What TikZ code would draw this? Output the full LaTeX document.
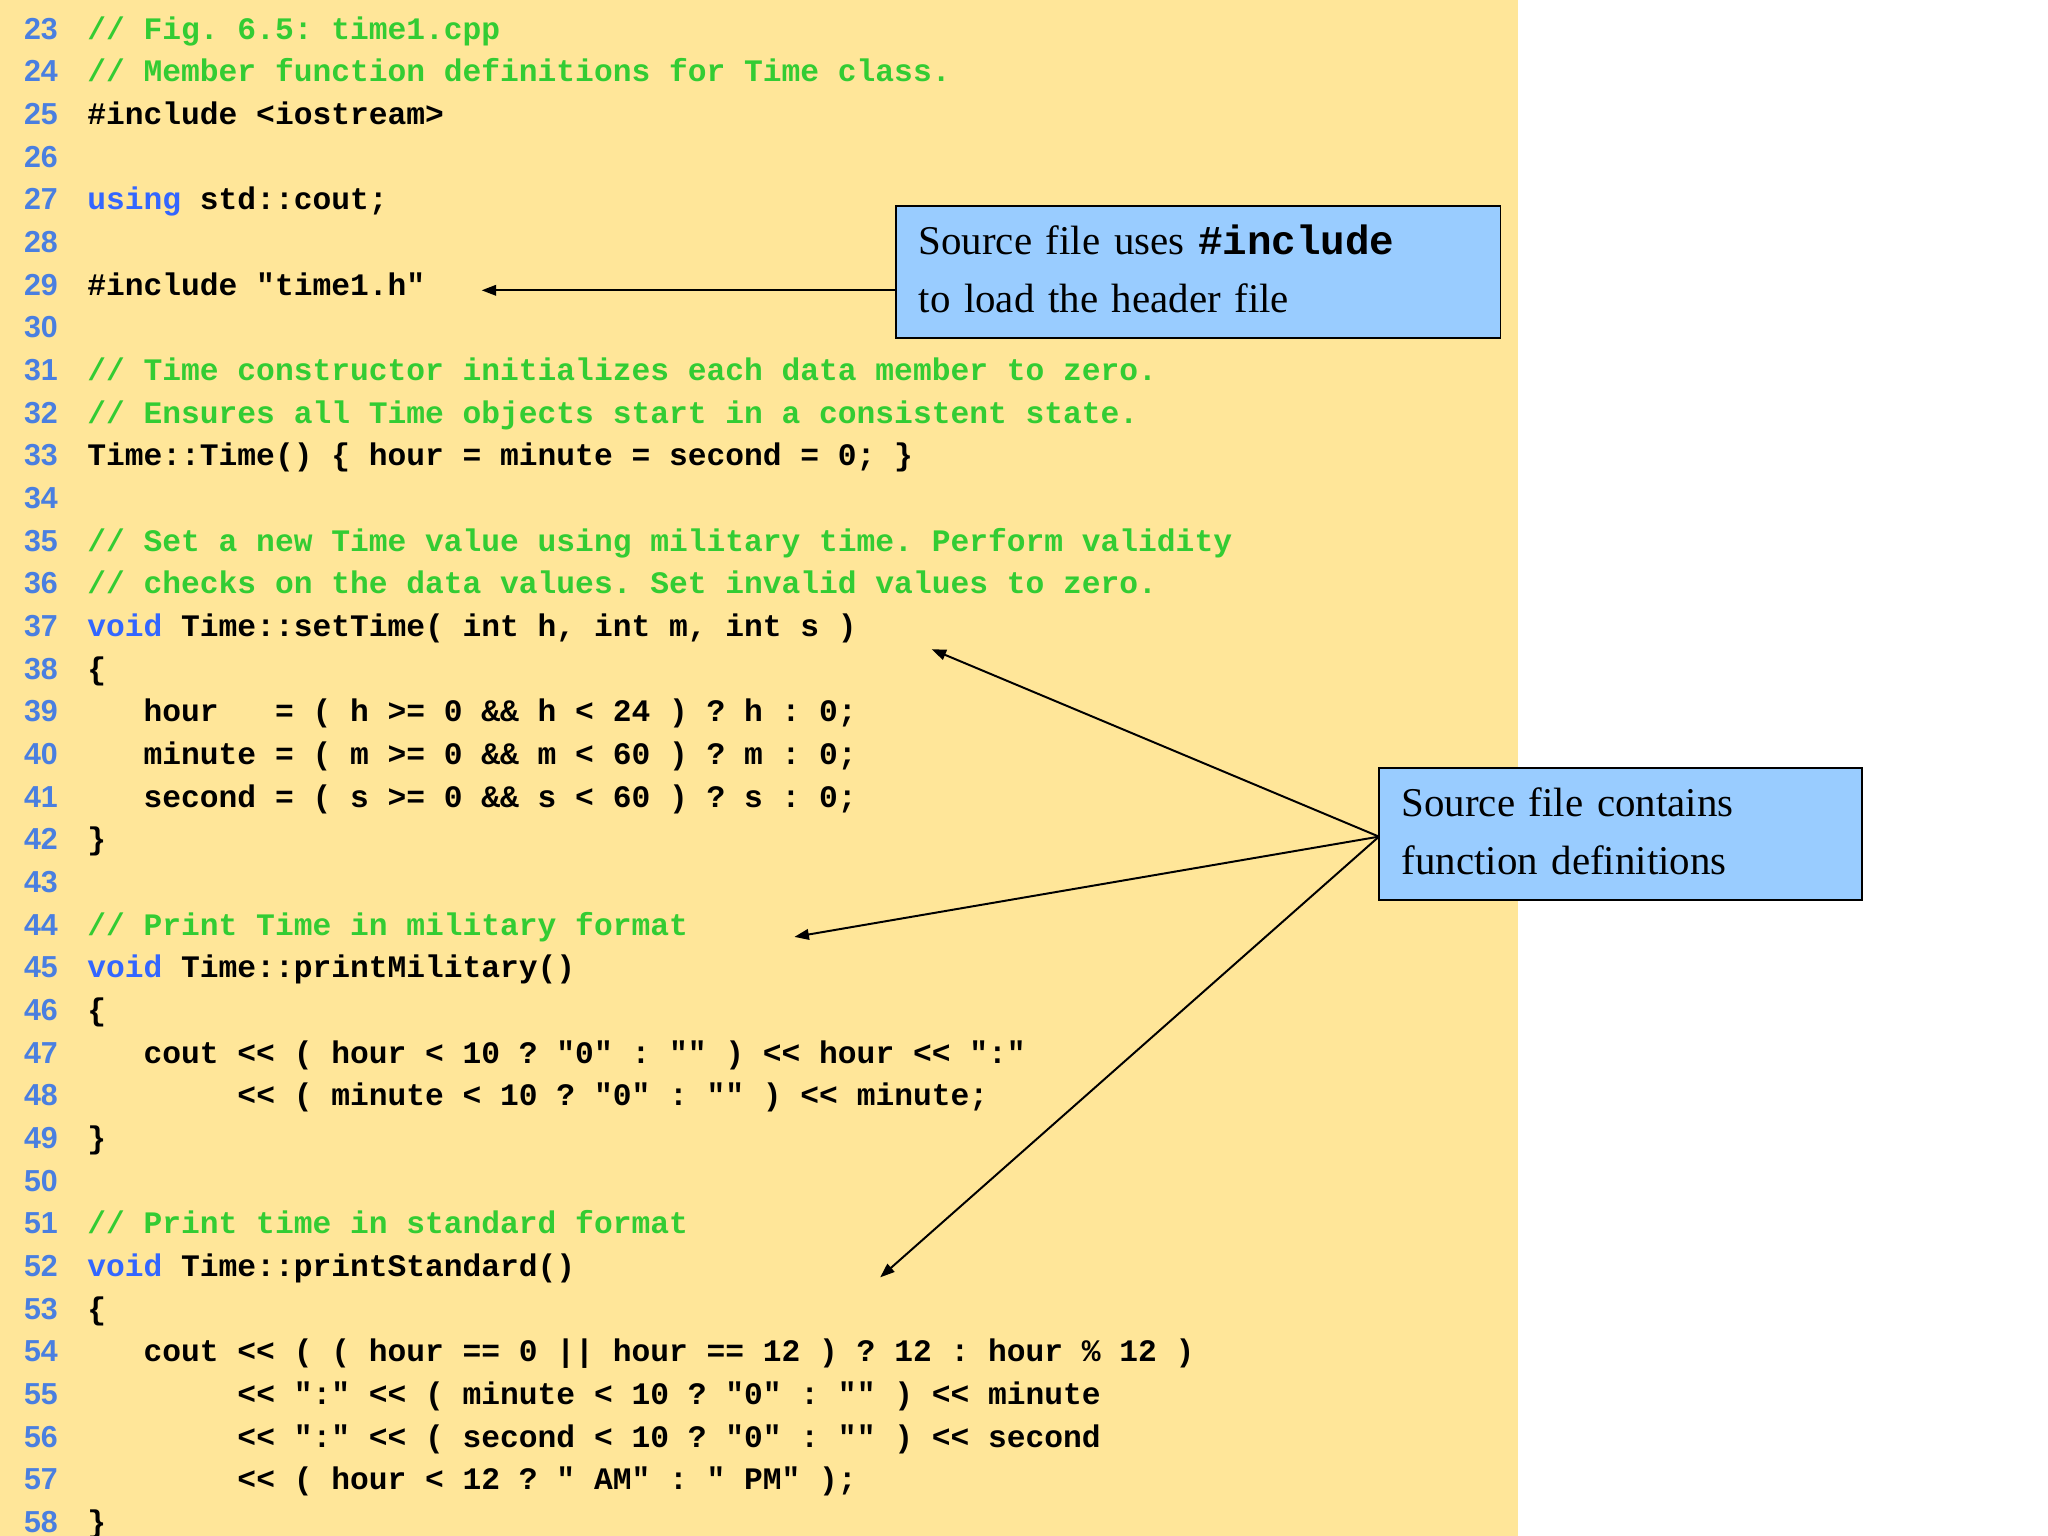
\documentclass[tikz,border=0pt]{standalone}
\usepackage{fontspec}
\setmainfont{Liberation Serif}
\setsansfont{Liberation Sans}
\setmonofont{Liberation Mono}
\usetikzlibrary{arrows.meta}
\definecolor{bg}{HTML}{FFE699}
\definecolor{cgreen}{HTML}{33CC33}
\definecolor{kblue}{HTML}{3366FF}
\definecolor{nblue}{HTML}{4A7FE0}
\definecolor{boxblue}{HTML}{99CCFF}
\newcommand\kw[1]{\textcolor{kblue}{#1}}
\newcommand\cm[1]{\textcolor{cgreen}{#1}}
\newcommand\cl[2]{\node[num,anchor=base east] (n#1) at (44,{29.7+(#1-23)*32.33}) {#1};
  \node[code,anchor=base west] (c#1) at (66,{29.7+(#1-23)*32.33}) {#2};}
\begin{document}
\begin{tikzpicture}[x=1pt,y=-1pt,
  num/.style={inner sep=0,font=\fontsize{23}{23}\sffamily\bfseries,text=nblue},
  code/.style={inner sep=0,font=\fontsize{23.7}{24}\ttfamily\bfseries,text=black},
  callout/.style={anchor=north west,align=left,inner sep=0,font=\fontsize{31}{44}\rmfamily,text width=#1},
  arr/.style={line width=1.5,-{Triangle[length=11,width=8]}}]
\useasboundingbox (0,0) rectangle (1552,1164);
\fill[bg] (0,0) rectangle (1150,1164);
\fill[white] (1150,0) rectangle (1552,1164);
\cl{23}{\cm{// Fig. 6.5: time1.cpp}}
\cl{24}{\cm{// Member function definitions for Time class.}}
\cl{25}{\#include <iostream>}
\cl{26}{}
\cl{27}{\kw{using} std::cout;}
\cl{28}{}
\cl{29}{\#include "time1.h"}
\cl{30}{}
\cl{31}{\cm{// Time constructor initializes each data member to zero.}}
\cl{32}{\cm{// Ensures all Time objects start in a consistent state.}}
\cl{33}{Time::Time() \{ hour = minute = second = 0; \}}
\cl{34}{}
\cl{35}{\cm{// Set a new Time value using military time. Perform validity}}
\cl{36}{\cm{// checks on the data values. Set invalid values to zero.}}
\cl{37}{\kw{void} Time::setTime( int h, int m, int s )}
\cl{38}{\{}
\cl{39}{\ \ \ hour\ \ \ = ( h >= 0 \&\& h < 24 ) ? h : 0;}
\cl{40}{\ \ \ minute = ( m >= 0 \&\& m < 60 ) ? m : 0;}
\cl{41}{\ \ \ second = ( s >= 0 \&\& s < 60 ) ? s : 0;}
\cl{42}{\}}
\cl{43}{}
\cl{44}{\cm{// Print Time in military format}}
\cl{45}{\kw{void} Time::printMilitary()}
\cl{46}{\{}
\cl{47}{\ \ \ cout << ( hour < 10 ? "0" : "" ) << hour << ":"}
\cl{48}{\ \ \ \ \ \ \ \ << ( minute < 10 ? "0" : "" ) << minute;}
\cl{49}{\}}
\cl{50}{}
\cl{51}{\cm{// Print time in standard format}}
\cl{52}{\kw{void} Time::printStandard()}
\cl{53}{\{}
\cl{54}{\ \ \ cout << ( ( hour == 0 || hour == 12 ) ? 12 : hour \% 12 )}
\cl{55}{\ \ \ \ \ \ \ \ << ":" << ( minute < 10 ? "0" : "" ) << minute}
\cl{56}{\ \ \ \ \ \ \ \ << ":" << ( second < 10 ? "0" : "" ) << second}
\cl{57}{\ \ \ \ \ \ \ \ << ( hour < 12 ? " AM" : " PM" );}
\cl{58}{\}}
\draw[line width=1.2,fill=boxblue] (679,156) rectangle (1137,256);
\node[callout=440] (b1) at (696,170) {Source file uses {\fontsize{31}{44}\ttfamily\bfseries\#include}\\to load the header file};
\draw[line width=1.2,fill=boxblue] (1045,582) rectangle (1411,682);
\node[callout=350] (b2) at (1062,597) {Source file contains\\function definitions};
\coordinate (s1) at (679,220);
\coordinate (s2) at (1045,634);
\coordinate (t1) at (365,220);
\coordinate (t2) at (706,492);
\coordinate (t3) at (602,710);
\coordinate (t4) at (667,968);
\draw[arr] (s1) -- (t1);
\draw[arr] (s2) -- (t2);
\draw[arr] (s2) -- (t3);
\draw[arr] (s2) -- (t4);
\end{tikzpicture}
\end{document}
